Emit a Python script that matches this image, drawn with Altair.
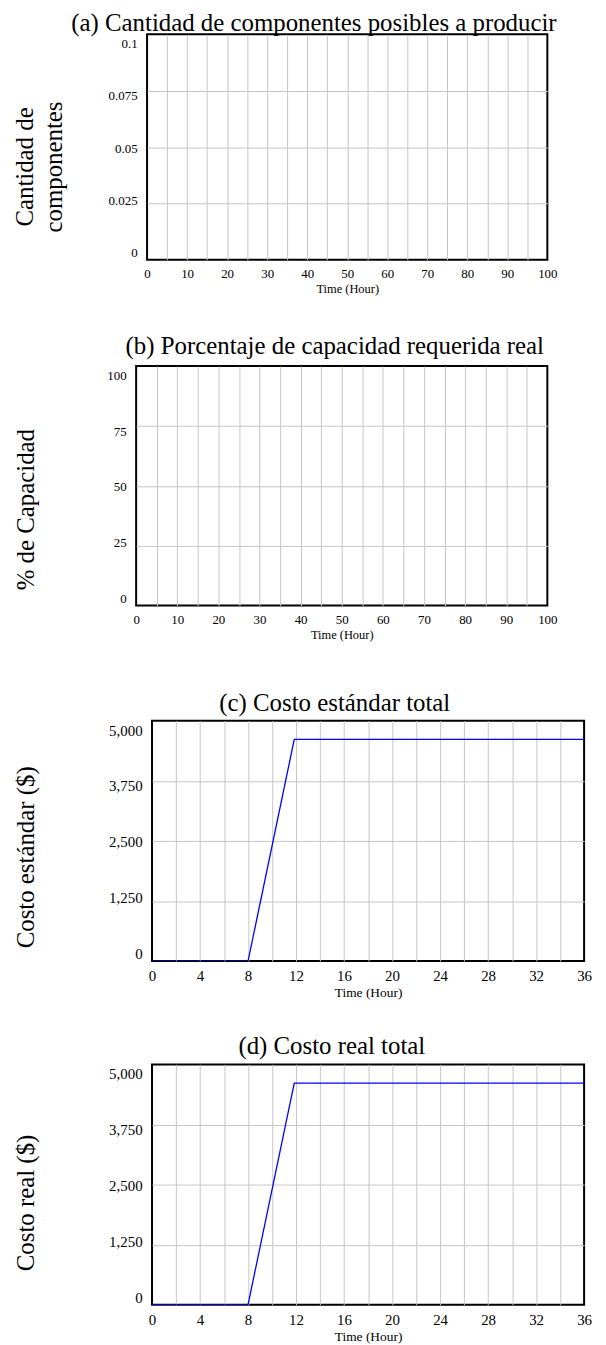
import altair as alt
import pandas as pd

# ---------------- data ----------------
a_time = [0, 100]
a_values = [0, 0]

b_time = [0, 100]
b_values = [0, 0]

c_time = [0, 8, 11.85, 36]
c_values = [0, 0, 4610, 4610]

d_time = [0, 8, 11.85, 36]
d_values = [0, 0, 4610, 4610]

panel_titles = [
    "(a) Cantidad de componentes posibles a producir",
    "(b) Porcentaje de capacidad requerida real",
    "(c) Costo estándar total",
    "(d) Costo real total",
]
y_titles = [
    ["Cantidad de", "componentes"],
    "% de Capacidad",
    "Costo estándar ($)",
    "Costo real ($)",
]
x_title = "Time (Hour)"

a_yticks = [0, 0.025, 0.05, 0.075, 0.1]
b_yticks = [0, 25, 50, 75, 100]
cd_yticks = [0, 1250, 2500, 3750, 5000]
ab_xgrid = [0, 5, 10, 15, 20, 25, 30, 35, 40, 45, 50, 55, 60, 65, 70, 75, 80, 85, 90, 95, 100]
cd_xgrid = [0, 2, 4, 6, 8, 10, 12, 14, 16, 18, 20, 22, 24, 26, 28, 30, 32, 34, 36]

FONT = "Liberation Serif"
GRID = "#c6c6c6"
LINE = "#0000FF"


def panel(times, values, title, ytitle, ymax, yticks, yfmt, xmax, xgrid, xstep,
          width, height, title_offset, title_dx, ytitle_x, ytitle_y,
          tick_size, xtitle_size, visible=True):
    df = pd.DataFrame({"t": times, "v": values})
    label_offset = {
        "condition": [
            {"test": f"datum.value == {v}", "value": round(-7.5 + 17 * v / ymax, 1)}
            for v in yticks
        ],
        "value": 0,
    }
    xaxis = alt.Axis(
        values=xgrid,
        labelExpr=f"datum.value % {xstep} == 0 ? format(datum.value, 'd') : ''",
        grid=True,
        gridColor={"condition": {"test": f"datum.value == 0 || datum.value == {xmax}",
                                 "value": "transparent"}, "value": GRID},
        gridWidth=1,
        domain=False,
        ticks=False,
        labelFont=FONT,
        labelFontSize=tick_size,
        labelColor="black",
        labelPadding=8,
        labelAngle=0,
        labelFlush=False,
        labelOverlap=False,
        labelBound=False,
        title=x_title,
        titleFont=FONT,
        titleFontSize=xtitle_size,
        titleFontWeight="normal",
        titleColor="black",
        titlePadding=2,
    )
    yaxis = alt.Axis(
        values=yticks,
        labelExpr=f"format(datum.value, '{yfmt}')",
        grid=True,
        gridColor={"condition": {"test": f"datum.value == 0 || datum.value == {ymax}",
                                 "value": "transparent"}, "value": GRID},
        gridWidth=1,
        domain=False,
        ticks=False,
        labelFont=FONT,
        labelFontSize=tick_size,
        labelColor="black",
        labelPadding=10,
        labelOffset=label_offset,
        labelOverlap=False,
        labelFlush=False,
        labelBound=False,
        title=ytitle,
        titleFont=FONT,
        titleFontSize=25,
        titleFontWeight="normal",
        titleColor="black",
        titleAngle=270,
        titleAlign="center",
        titleBaseline="bottom",
        titleLineHeight=29,
        titleX=ytitle_x,
        titleY=ytitle_y,
    )
    mark = alt.Chart(df).mark_line(
        color=LINE, strokeWidth=1.3, clip=True, opacity=1 if visible else 0
    )
    return mark.encode(
        x=alt.X("t:Q", scale=alt.Scale(domain=[0, xmax], nice=False, zero=False), axis=xaxis),
        y=alt.Y("v:Q", scale=alt.Scale(domain=[0, ymax], nice=False), axis=yaxis),
    ).properties(
        width=width,
        height=height,
        title=alt.TitleParams(
            text=title, font=FONT, fontSize=25, fontWeight="normal", color="black",
            anchor="middle", frame="group", offset=title_offset, dx=title_dx,
        ),
    )


def spacer(h):
    return alt.Chart(pd.DataFrame({"s": [0]})).mark_point(size=0, opacity=0).properties(
        width=2, height=h, view=alt.ViewBackground(stroke="transparent")
    )


pa = panel(a_time, a_values, panel_titles[0], y_titles[0], 0.1, a_yticks, "~g",
           100, ab_xgrid, 10, 403, 227, -2, -33.5, -110, 133, 13, 12.5, visible=False)
pb = panel(b_time, b_values, panel_titles[1], y_titles[1], 100, b_yticks, "~g",
           100, ab_xgrid, 10, 414, 241, 7, -7, -98.5, 144, 13, 12.5, visible=False)
pc = panel(c_time, c_values, panel_titles[2], y_titles[2], 5000, cd_yticks, ",",
           36, cd_xgrid, 4, 435, 242, 5, -33.5, -114.5, 137, 15, 13.5)
pd_ = panel(d_time, d_values, panel_titles[3], y_titles[3], 5000, cd_yticks, ",",
            36, cd_xgrid, 4, 435, 242, 5, -36.5, -114.5, 139, 15, 13.5)

rows = [
    alt.hconcat(spacer(300), pa, spacing=0),
    alt.hconcat(spacer(325), pb, spacing=0),
    alt.hconcat(spacer(314), pc, spacing=0),
    alt.hconcat(spacer(250), pd_, spacing=0),
]

chart = alt.vconcat(*rows, spacing=0).properties(
    padding={"left": 0, "top": -2, "right": 5, "bottom": 0},
    background="white",
).configure_view(stroke="black", strokeWidth=2)

chart.save("out.html", embed_options={"renderer": "svg", "actions": False})
